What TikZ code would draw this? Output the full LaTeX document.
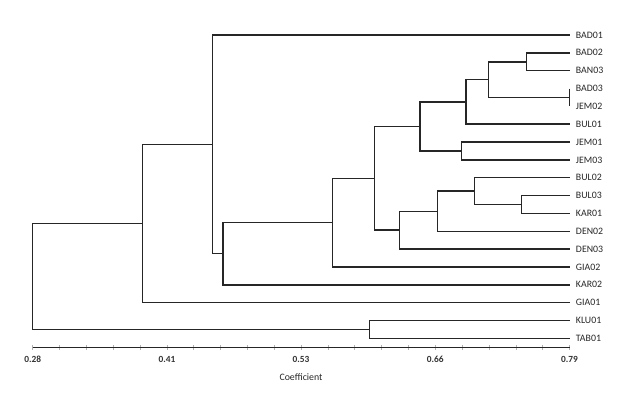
\documentclass[tikz,border=0pt]{standalone}
\usepackage{fontspec}
\setmainfont{Carlito}
\usetikzlibrary{calc}
\tikzset{
  branch/.style={line width=1.2pt,black!85},
  leaf/.style={anchor=west,inner xsep=5.5pt,inner ysep=0pt,outer sep=0pt,font=\fontsize{8.4}{10}\selectfont,text=black!85},
  ticklabel/.style={inner sep=0pt,font=\fontsize{8}{10}\selectfont\bfseries,text=black!80},
  minortick/.style={line width=0.5pt,black!30}
}
\begin{document}
\begin{tikzpicture}[x=0.03cm,y=-0.03cm]
	\useasboundingbox (0,0) rectangle (628,396);
	% leaves
	\node[leaf] (BAD01) at (569.5,35.0) {BAD01};
	\node[leaf] (BAD02) at (569.5,52.8) {BAD02};
	\node[leaf] (BAN03) at (569.5,70.7) {BAN03};
	\node[leaf] (BAD03) at (569.5,88.5) {BAD03};
	\node[leaf] (JEM02) at (569.5,106.4) {JEM02};
	\node[leaf] (BUL01) at (569.5,124.2) {BUL01};
	\node[leaf] (JEM01) at (569.5,142.0) {JEM01};
	\node[leaf] (JEM03) at (569.5,159.9) {JEM03};
	\node[leaf] (BUL02) at (569.5,177.7) {BUL02};
	\node[leaf] (BUL03) at (569.5,195.6) {BUL03};
	\node[leaf] (KAR01) at (569.5,213.4) {KAR01};
	\node[leaf] (DEN02) at (569.5,231.2) {DEN02};
	\node[leaf] (DEN03) at (569.5,249.1) {DEN03};
	\node[leaf] (GIA02) at (569.5,266.9) {GIA02};
	\node[leaf] (KAR02) at (569.5,284.8) {KAR02};
	\node[leaf] (GIA01) at (569.5,302.6) {GIA01};
	\node[leaf] (KLU01) at (569.5,320.5) {KLU01};
	\node[leaf] (TAB01) at (569.5,338.3) {TAB01};
	% joins
	\coordinate (n1) at (526.7,61.8);
	\coordinate (n2) at (569.5,97.4);
	\coordinate (n3) at (488.3,79.6);
	\coordinate (n4) at (466.0,101.9);
	\coordinate (n5) at (461.7,151.0);
	\coordinate (n6) at (420.0,126.4);
	\coordinate (n7) at (521.7,204.5);
	\coordinate (n8) at (474.3,191.1);
	\coordinate (n9) at (437.3,211.2);
	\coordinate (n10) at (399.3,230.1);
	\coordinate (n11) at (374.3,178.3);
	\coordinate (n12) at (332.7,222.6);
	\coordinate (n13) at (223.0,253.7);
	\coordinate (n14) at (212.3,144.4);
	\coordinate (n15) at (142.7,223.5);
	\coordinate (n16) at (369.3,329.4);
	\coordinate (root) at (32.7,276.4);
	% tree
	\draw[branch] (BAD02.west) -| (n1) |- (BAN03.west);
	\draw[branch] (BAD03.west) -| (n2) |- (JEM02.west);
	\draw[branch] (n1) -| (n3) |- (n2);
	\draw[branch] (n3) -| (n4) |- (BUL01.west);
	\draw[branch] (JEM01.west) -| (n5) |- (JEM03.west);
	\draw[branch] (n4) -| (n6) |- (n5);
	\draw[branch] (BUL03.west) -| (n7) |- (KAR01.west);
	\draw[branch] (BUL02.west) -| (n8) |- (n7);
	\draw[branch] (n8) -| (n9) |- (DEN02.west);
	\draw[branch] (n9) -| (n10) |- (DEN03.west);
	\draw[branch] (n6) -| (n11) |- (n10);
	\draw[branch] (n11) -| (n12) |- (GIA02.west);
	\draw[branch] (n12) -| (n13) |- (KAR02.west);
	\draw[branch] (BAD01.west) -| (n14) |- (n13);
	\draw[branch] (n14) -| (n15) |- (GIA01.west);
	\draw[branch] (KLU01.west) -| (n16) |- (TAB01.west);
	\draw[branch] (n15) -| (root) |- (n16);
	% axis
	\coordinate (axL) at (32.7,347.7);
	\coordinate (axR) at (569.5,347.7);
	\foreach \k in {0,...,20}
		\draw[minortick] ($(axL)!\k/20!(axR)+(0,-2.5)$) -- ++(0,5);
	\draw[branch] (axL) -- (axR);
	\node[ticklabel] (t028) at (32.7,359) {0.28};
	\node[ticklabel] (t041) at (166.9,359) {0.41};
	\node[ticklabel] (t053) at (301.1,359) {0.53};
	\node[ticklabel] (t066) at (435.3,359) {0.66};
	\node[ticklabel] (t079) at (569.5,359) {0.79};
	\node[inner sep=0pt,font=\fontsize{8.4}{10}\selectfont,text=black!85] (coef) at (301,377) {Coefficient};
\end{tikzpicture}
\end{document}
